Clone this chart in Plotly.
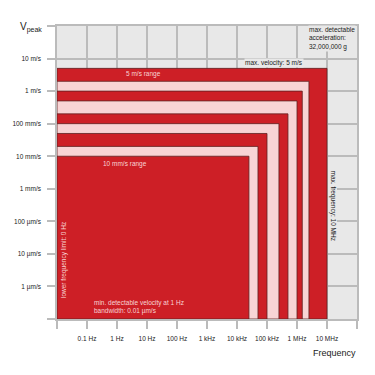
import plotly.graph_objects as go

# Nested measurement ranges (outermost first): max velocity [m/s], max frequency [Hz]
range_velocity = [5.0, 2.0, 1.0, 0.5, 0.2, 0.1, 0.05, 0.02, 0.01]
range_frequency = [10e6, 2.5e6, 1.5e6, 1e6, 500e3, 250e3, 100e3, 50e3, 25e3]
range_fill = ["red", "pink", "red", "pink", "red", "pink", "red", "pink", "red"]

f_min, f_max = 0.01, 1e8
v_min, v_max = 1e-7, 1e2

x_tickvals = [1e-2, 1e-1, 1, 10, 100, 1e3, 1e4, 1e5, 1e6, 1e7, 1e8]
x_ticktext = ["", "0.1 Hz", "1 Hz", "10 Hz", "100 Hz", "1 kHz", "10 kHz",
              "100 kHz", "1 MHz", "10 MHz", ""]
y_tickvals = [1e-7, 1e-6, 1e-5, 1e-4, 1e-3, 1e-2, 1e-1, 1, 10, 100]
y_ticktext = ["", "1 µm/s", "10 µm/s", "100 µm/s", "1 mm/s", "10 mm/s",
              "100 mm/s", "1 m/s", "10 m/s", ""]

RED = "#CD1F26"
PINK = "#F8D4D5"
BG = "#E8E8E8"
GRID = "#BBBBBB"
FONT = "Liberation Sans, Arial, sans-serif"

fig = go.Figure()
for v, f, c in zip(range_velocity, range_frequency, range_fill):
    fig.add_trace(go.Scatter(
        x=[f_min, f_min, f, f, f_min],
        y=[v_min, v, v, v_min, v_min],
        mode="lines", fill="toself",
        fillcolor=RED if c == "red" else PINK,
        line=dict(color="#5e2222", width=0.8),
        hoverinfo="skip", showlegend=False))

L, R, T, B = 57, 18, 26, 56
W = 375 - L - R
H = 375 - T - B


def px(xp):
    return (xp - L) / W


def py(yp):
    return (375 - B - yp) / H


def ann(text, x, y, color="#222222", size=6.5, xanchor="center", align="center",
        angle=0, bg=None):
    fig.add_annotation(text=text, x=px(x), y=py(y), xref="paper", yref="paper",
                       showarrow=False, xanchor=xanchor, yanchor="middle",
                       align=align, textangle=angle,
                       font=dict(family=FONT, size=size, color=color),
                       bgcolor=bg, borderpad=0)


ann("5 m/s range", 143, 74, color=PINK)
ann("10 mm/s range", 124.5, 164, color=PINK)
ann("lower frequency limit: 0 Hz", 64, 260, color=PINK, angle=-90)
ann("min. detectable velocity at 1 Hz<br>bandwidth: 0.01 µm/s", 93, 306.5,
    color=PINK, xanchor="left", align="left")
ann("max. frequency: 10 MHz", 332.5, 205, angle=90, bg=BG)
ann("max. velocity: 5 m/s", 274, 63, bg=BG)
ann("max. detectable<br>acceleration:<br>32,000,000 g", 308, 38.5,
    xanchor="left", align="left", bg=BG)
ann("Frequency", 357, 352.5, size=9, xanchor="right")
ann("V<sub>peak</sub>", 43, 28, size=10, xanchor="right")

fig.update_layout(
    width=375, height=375,
    margin=dict(l=L, r=R, t=T, b=B),
    paper_bgcolor="white", plot_bgcolor=BG,
    font=dict(family=FONT, size=6.5, color="#222222"),
    showlegend=False,
)
fig.update_xaxes(type="log", range=[-2, 8], tickvals=x_tickvals, ticktext=x_ticktext,
                 showgrid=True, gridcolor=GRID, gridwidth=1.5,
                 showline=True, linecolor=GRID, linewidth=1.5, mirror=True,
                 ticks="outside", ticklen=8, tickcolor=GRID, tickwidth=1.5,
                 ticklabelstandoff=4, zeroline=False,
                 tickfont=dict(family=FONT, size=6.5, color="#222222"))
fig.update_yaxes(type="log", range=[-7, 2], tickvals=y_tickvals, ticktext=y_ticktext,
                 showgrid=True, gridcolor=GRID, gridwidth=1.5,
                 showline=True, linecolor=GRID, linewidth=1.5, mirror=True,
                 ticks="outside", ticklen=8, tickcolor=GRID, tickwidth=1.5,
                 ticklabelstandoff=5, zeroline=False,
                 tickfont=dict(family=FONT, size=6.5, color="#222222"))

fig.write_html("out.html", config={"displayModeBar": False},
               post_script="document.body.style.margin='0';document.body.style.padding='0';")
